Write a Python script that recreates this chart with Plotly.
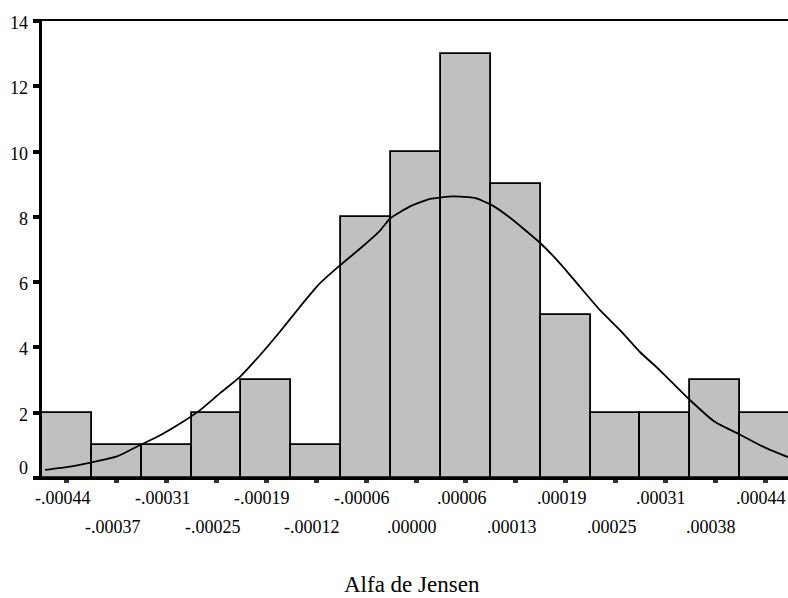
import plotly.graph_objects as go

# Histogram bins (centre labels) and frequencies
bin_labels = ["-.00044", "-.00037", "-.00031", "-.00025", "-.00019", "-.00012", "-.00006",
              ".00000", ".00006", ".00013", ".00019", ".00025", ".00031", ".00038", ".00044"]
counts = [2, 1, 1, 2, 3, 1, 8, 10, 13, 9, 5, 2, 2, 3, 2]
bin_pos = list(range(len(bin_labels)))

# Normal curve (x in bin-index units, y in frequency)
curve_x = [-0.44, 0.06, 0.50, 1.00, 1.47, 1.87, 2.27, 2.67, 3.07, 3.47, 3.87, 4.27, 4.67,
           5.07, 5.48, 5.88, 6.28, 6.48, 6.88, 7.28, 7.74, 8.18, 8.52, 8.88, 9.49, 9.89,
           10.29, 10.69, 11.09, 11.49, 11.89, 12.45, 12.99, 13.52, 14.00, 14.46]
curve_y = [0.25, 0.35, 0.48, 0.66, 1.01, 1.31, 1.67, 2.08, 2.60, 3.10, 3.76, 4.48, 5.24,
           5.96, 6.52, 7.03, 7.58, 7.95, 8.32, 8.55, 8.63, 8.58, 8.36, 7.98, 7.20, 6.57,
           5.85, 5.14, 4.53, 3.86, 3.30, 2.45, 1.72, 1.31, 0.93, 0.64]

y_ticks = [0, 2, 4, 6, 8, 10, 12, 14]
y_tick_text = [str(v) for v in y_ticks]
x_title = "Alfa de Jensen"

FONT = "Liberation Serif"
LBL = dict(family=FONT, size=18, color="black")
xr = [-0.5, -0.5 + 746 / 49.87]

fig = go.Figure()
fig.add_trace(go.Bar(x=bin_pos, y=counts, width=1,
                     marker=dict(color="#c0c0c0", line=dict(color="black", width=1.8)),
                     showlegend=False, hoverinfo="skip"))
fig.add_trace(go.Scatter(x=curve_x, y=curve_y, mode="lines",
                         line=dict(color="black", width=1.8, shape="spline", smoothing=0.5),
                         showlegend=False, hoverinfo="skip"))

annotations = []
# staggered x tick labels (two rows)
for p, lab in zip(bin_pos, bin_labels):
    annotations.append(dict(text=lab, x=p, xref="x", y=0, yref="y",
                            xanchor="center", yanchor="middle", borderpad=0,
                            xshift=-4, yshift=-20 if p % 2 == 0 else -49,
                            showarrow=False, font=LBL))
# y tick labels
for v, t in zip(y_ticks, y_tick_text):
    annotations.append(dict(text=t, x=0, xref="paper", y=v, yref="y",
                            xanchor="right", yanchor="middle", borderpad=0,
                            xshift=-13, yshift=(10 if v == 0 else -2),
                            showarrow=False, font=LBL))
# axis title
annotations.append(dict(text=x_title, xref="paper", yref="paper", x=0.5, y=0,
                        xanchor="center", yanchor="middle", yshift=-106, xshift=-3,
                        borderpad=0, showarrow=False,
                        font=dict(family=FONT, size=23, color="black")))

fig.update_layout(
    width=788, height=598,
    margin=dict(l=42, r=0, t=21, b=120),
    plot_bgcolor="white", paper_bgcolor="white",
    bargap=0,
    font=dict(family=FONT, size=18, color="black"),
    xaxis=dict(range=xr, showgrid=False, zeroline=False,
               showline=True, linecolor="black", linewidth=2, mirror=True,
               tickmode="array", tickvals=bin_pos, showticklabels=False,
               ticks="outside", ticklen=3, tickwidth=5, tickcolor="#333"),
    yaxis=dict(range=[0, 14], showgrid=False, zeroline=False,
               showline=True, linecolor="black", linewidth=3,
               tickmode="array", tickvals=y_ticks, showticklabels=False,
               ticks="outside", ticklen=6, tickwidth=4, tickcolor="black"),
    annotations=annotations,
)

fig.write_html("out.html")
